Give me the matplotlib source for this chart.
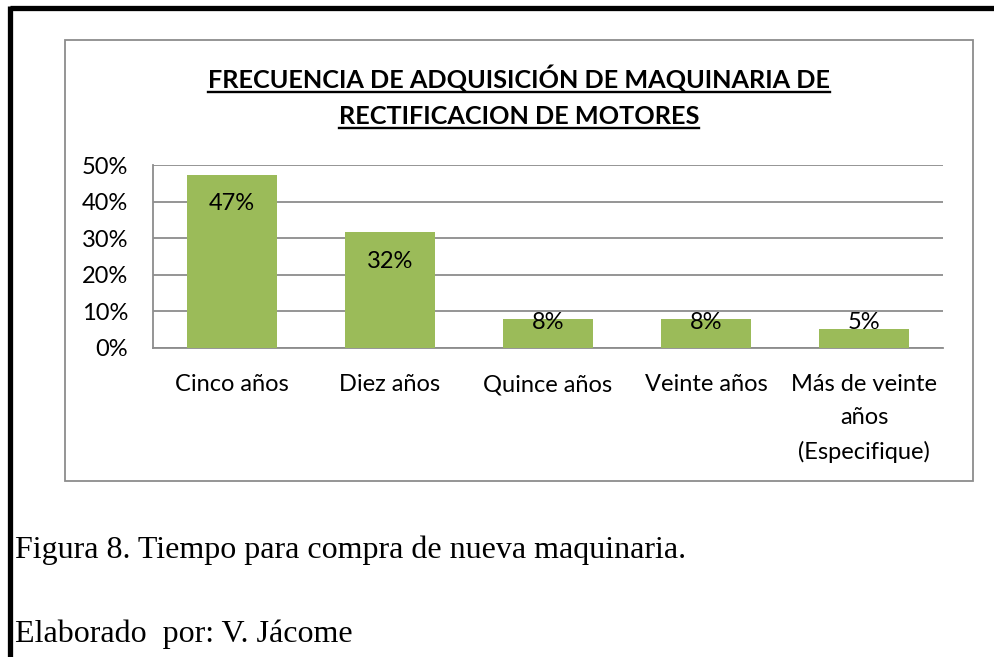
import matplotlib
matplotlib.use("Agg")
import matplotlib.pyplot as plt
from matplotlib.lines import Line2D
from matplotlib.patches import Rectangle
from matplotlib.ticker import FuncFormatter

categorias = ["Cinco años", "Diez años", "Quince años", "Veinte años",
              "Más de veinte\naños\n(Especifique)"]
valores = [18/38, 12/38, 3/38, 3/38, 2/38]
etiquetas = ["47%", "32%", "8%", "8%", "5%"]
titulo = ["FRECUENCIA DE ADQUISICIÓN DE MAQUINARIA DE", "RECTIFICACION DE MOTORES"]
pie = ["Figura 8. Tiempo para compra de nueva maquinaria.", "Elaborado  por: V. Jácome"]

sans = "Lato"
serif = "Liberation Serif"
W, H = 995, 657

fig = plt.figure(figsize=(W/100, H/100), dpi=100)

# black page border (top and left)
fig.add_artist(Line2D([10/W, 1], [1-8/H, 1-8/H], color="black", lw=3.8,
                      transform=fig.transFigure, solid_capstyle="butt"))
fig.add_artist(Line2D([10/W, 10/W], [0, 1-6/H], color="black", lw=3.8,
                      transform=fig.transFigure, solid_capstyle="butt"))

# chart box
fig.add_artist(Rectangle((65/W, 1-481/H), (973-65)/W, (481-40)/H, fill=False,
                         edgecolor="#8c8c8c", lw=1.3, transform=fig.transFigure))

ax = fig.add_axes([153/W, 1-348/H, (943-153)/W, (348-165)/H])
x = range(len(categorias))
ax.bar(x, valores, width=0.57, color="#9BBB59", zorder=3)
ax.set_xlim(-0.5, len(categorias)-0.5)
ax.set_ylim(0, 0.5)
ax.set_yticks([0, 0.1, 0.2, 0.3, 0.4, 0.5])
ax.yaxis.set_major_formatter(FuncFormatter(lambda v, p: "%d%%" % round(v*100)))
ax.grid(axis="y", color="#8c8c8c", lw=1.3, zorder=0)
ax.set_xticks(list(x))
ax.set_xticklabels([])
ax.tick_params(axis="both", length=0, labelsize=17)
ax.tick_params(axis="y", pad=18)
for t in ax.get_yticklabels():
    t.set_family(sans)
for s in ["top", "right"]:
    ax.spines[s].set_visible(False)
for s in ["left", "bottom"]:
    ax.spines[s].set_color("#8c8c8c")
    ax.spines[s].set_linewidth(1.3)

# category labels (single lines on a common baseline, wrapped one from the top)
for i, cat in enumerate(categorias):
    multi = "\n" in cat
    ax.annotate(cat, (i, 0), xycoords=("data", "axes fraction"),
                xytext=(0, -19 if multi else -31), textcoords="offset points",
                ha="center", va="top" if multi else "baseline",
                fontsize=17, family=sans, linespacing=1.7)

for i, (v, lab) in enumerate(zip(valores, etiquetas)):
    ax.annotate(lab, (i, max(v, 0.148)), xytext=(0, -21), textcoords="offset points",
                ha="center", va="center", fontsize=17, family=sans, zorder=4)

# title with underline
renderer = fig.canvas.get_renderer()
for k, (linea, yb) in enumerate(zip(titulo, [88, 124])):
    t = fig.text(519/W, 1-yb/H, linea, ha="center", va="baseline",
                 fontsize=18.2, fontweight="bold", family=sans)
    bb = t.get_window_extent(renderer)
    yu = 1-(yb+4)/H
    fig.add_artist(Line2D([bb.x0/W, bb.x1/W], [yu, yu], color="black", lw=1.7,
                          transform=fig.transFigure))

fig.text(15/W, 1-558/H, pie[0], ha="left", va="baseline", fontsize=23, family=serif)
fig.text(15/W, 1-642/H, pie[1], ha="left", va="baseline", fontsize=23, family=serif)

fig.savefig("out.png", dpi=100)
